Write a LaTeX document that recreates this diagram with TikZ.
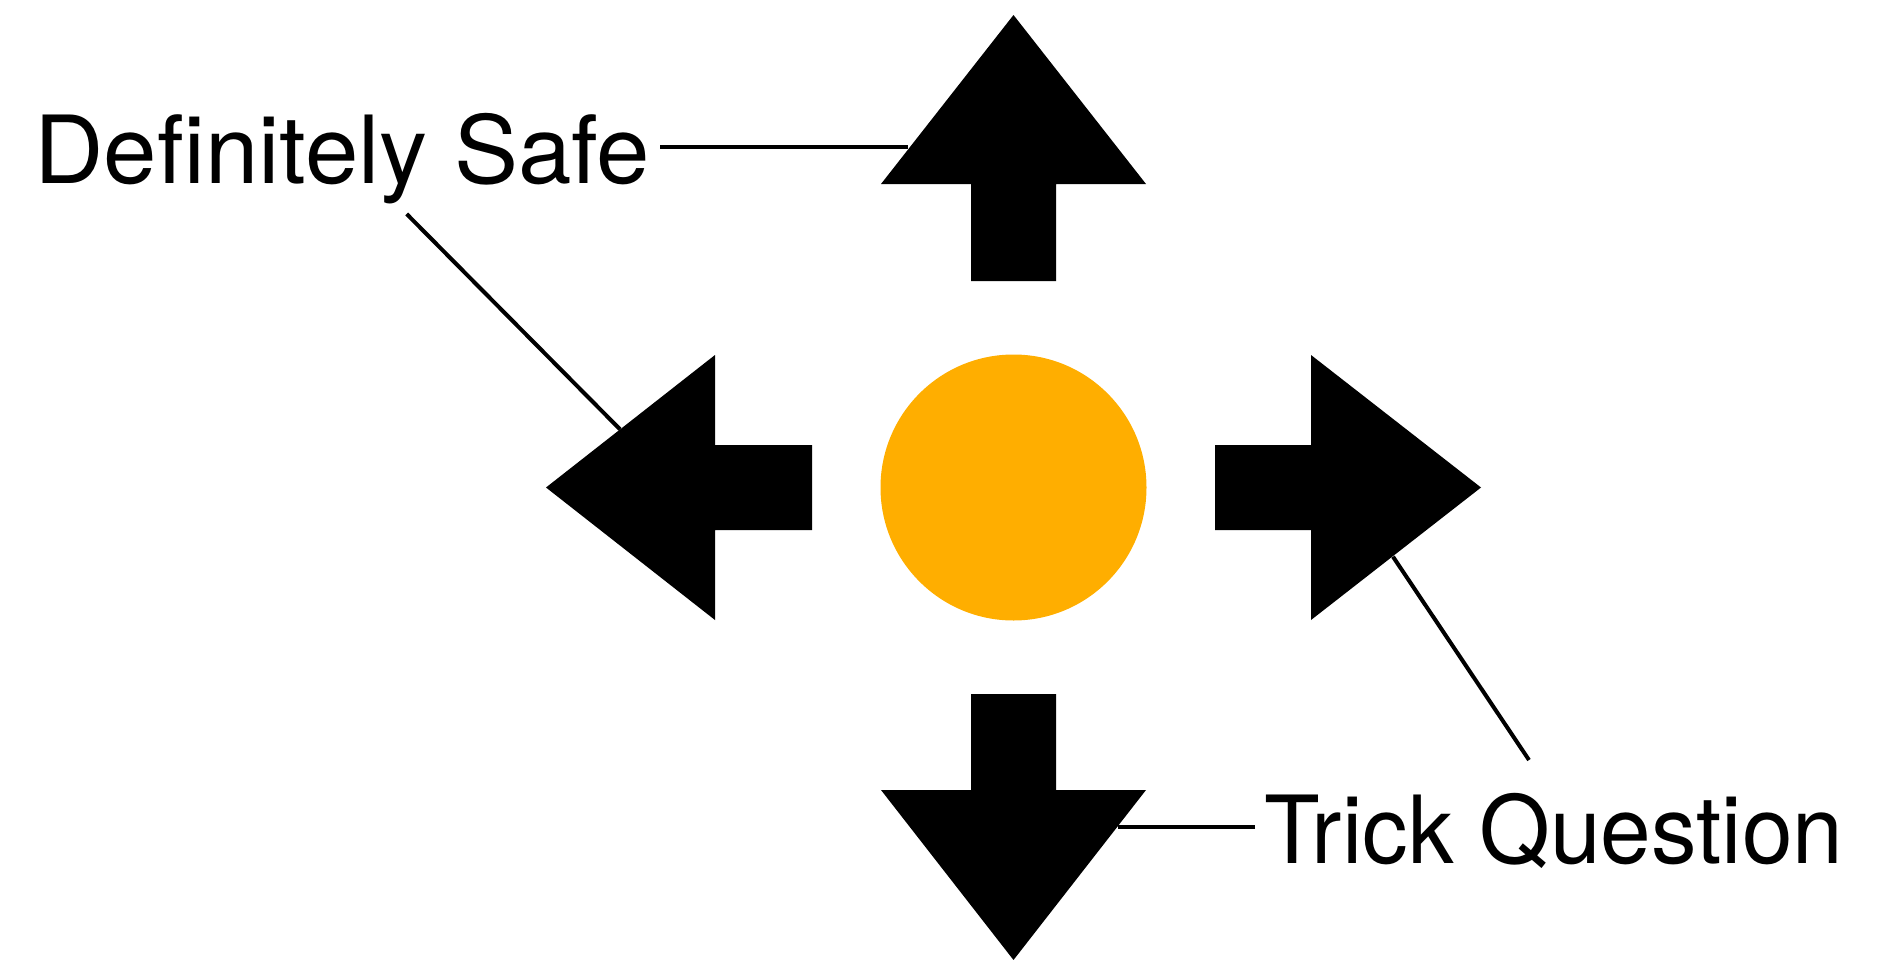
\documentclass[tikz,border=0pt]{standalone}
\usepackage{fontspec}
\setmainfont{TeX Gyre Heros}
\definecolor{sunorange}{HTML}{FFAE00}
\begin{document}
\begin{tikzpicture}[x=0.75pt,y=-0.75pt,
  label/.style={inner sep=0pt,anchor=base west,font=\fontsize{70.5pt}{80pt}\selectfont},
  blockarrow/.style={fill=black,draw=none},
  leader/.style={draw=black,line width=3pt}]
\useasboundingbox (0,0) rectangle (1900,960);

% centre disc
\fill[sunorange] (1013.5,487.5) circle[radius=133];

% four block arrows pointing away from the disc
\path[blockarrow] (1013.5,15) -- (1146,184) -- (1056,184) -- (1056,281)
  -- (971,281) -- (971,184) -- (881,184) -- cycle;
\path[blockarrow] (1013.5,960) -- (1146,790) -- (1056,790) -- (1056,694)
  -- (971,694) -- (971,790) -- (881,790) -- cycle;
\path[blockarrow] (546,487.5) -- (715,355) -- (715,445) -- (812,445)
  -- (812,530) -- (715,530) -- (715,620) -- cycle;
\path[blockarrow] (1481,487.5) -- (1311,355) -- (1311,445) -- (1215,445)
  -- (1215,530) -- (1311,530) -- (1311,620) -- cycle;

% labels
\node[label,xscale=1.022] (safe) at (34,183) {Definitely Safe};
\node[label,xscale=0.969] (trick) at (1264,863) {Trick Question};

% leader line end points
\coordinate (safeA) at (660,146.7);
\coordinate (upEnd) at (908,146.7);
\coordinate (safeB) at (406.7,214);
\coordinate (leftEnd) at (620,429.3);
\coordinate (trickA) at (1255,827.3);
\coordinate (downEnd) at (1117.7,827.3);
\coordinate (trickB) at (1529,760);
\coordinate (rightEnd) at (1393,556.7);

\draw[leader] (safeA) -- (upEnd);
\draw[leader] (safeB) -- (leftEnd);
\draw[leader] (trickA) -- (downEnd);
\draw[leader] (trickB) -- (rightEnd);
\end{tikzpicture}
\end{document}
